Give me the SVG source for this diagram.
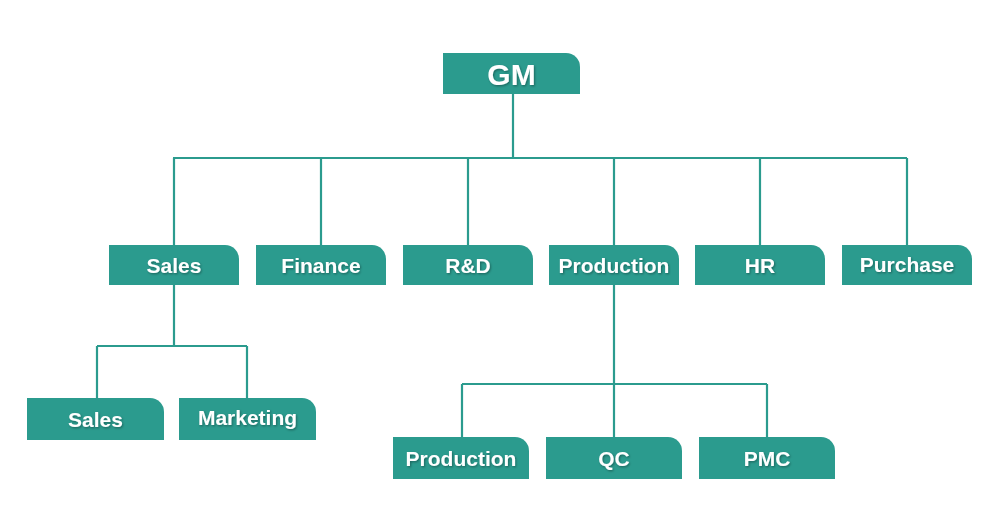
<svg xmlns="http://www.w3.org/2000/svg" width="1000" height="531" viewBox="0 0 1000 531">
<style>
.box{fill:#2b9b8e}
.lbl{font-family:"Liberation Sans",Arial,sans-serif;font-weight:bold;font-size:21px;fill:#ffffff;text-anchor:middle;filter:url(#sh)}
.big{font-size:30px}
.ln{fill:none;stroke:#2b9b8e;stroke-width:2.2}
</style>
<defs>
<filter id="sh" x="-10%" y="-20%" width="120%" height="150%">
<feDropShadow dx="1" dy="1.2" stdDeviation="0.8" flood-color="#000" flood-opacity="0.35"/>
</filter>
</defs>
<rect width="1000" height="531" fill="#ffffff"/>
<g id="connectors">
<path class="ln" d="M513 94 V158 M173 158 H907 M174 158 V245 M321 158 V245 M468 158 V245 M614 158 V245 M760 158 V245 M907 158 V245"/>
<path class="ln" d="M174 285 V346 M97 346 H247 M97 346 V398 M247 346 V398"/>
<path class="ln" d="M614 285 V437 M462 384 H767 M462 384 V437 M767 384 V437"/>
</g>
<g id="gm"><path class="box" d="M443 53 H566 A14 14 0 0 1 580 67 V94 H443 Z"/><text class="lbl big" x="511.5" y="85">GM</text></g>
<g id="sales"><path class="box" d="M109 245 H225 A14 14 0 0 1 239 259 V285 H109 Z"/><text class="lbl" x="174" y="273">Sales</text></g>
<g id="finance"><path class="box" d="M256 245 H372 A14 14 0 0 1 386 259 V285 H256 Z"/><text class="lbl" x="321" y="273">Finance</text></g>
<g id="rd"><path class="box" d="M403 245 H519 A14 14 0 0 1 533 259 V285 H403 Z"/><text class="lbl" x="468" y="273">R&amp;D</text></g>
<g id="production"><path class="box" d="M549 245 H665 A14 14 0 0 1 679 259 V285 H549 Z"/><text class="lbl" x="614" y="273">Production</text></g>
<g id="hr"><path class="box" d="M695 245 H811 A14 14 0 0 1 825 259 V285 H695 Z"/><text class="lbl" x="760" y="273">HR</text></g>
<g id="purchase"><path class="box" d="M842 245 H958 A14 14 0 0 1 972 259 V285 H842 Z"/><text class="lbl" x="907" y="272">Purchase</text></g>
<g id="sales2"><path class="box" d="M27 398 H150 A14 14 0 0 1 164 412 V440 H27 Z"/><text class="lbl" x="95.5" y="427">Sales</text></g>
<g id="marketing"><path class="box" d="M179 398 H302 A14 14 0 0 1 316 412 V440 H179 Z"/><text class="lbl" x="247.5" y="425">Marketing</text></g>
<g id="production2"><path class="box" d="M393 437 H515 A14 14 0 0 1 529 451 V479 H393 Z"/><text class="lbl" x="461" y="466">Production</text></g>
<g id="qc"><path class="box" d="M546 437 H668 A14 14 0 0 1 682 451 V479 H546 Z"/><text class="lbl" x="614" y="466">QC</text></g>
<g id="pmc"><path class="box" d="M699 437 H821 A14 14 0 0 1 835 451 V479 H699 Z"/><text class="lbl" x="767" y="466">PMC</text></g>
</svg>
